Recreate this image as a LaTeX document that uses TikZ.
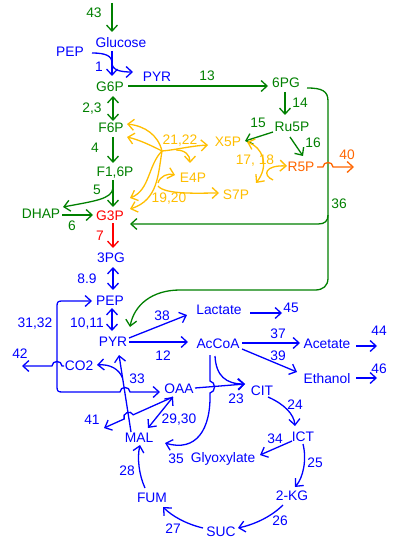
\documentclass[tikz,border=0pt]{standalone}
\usepackage{fontspec}
\setmainfont{Liberation Sans}
\usetikzlibrary{arrows.meta,calc}
\definecolor{cg}{RGB}{0,128,0}
\definecolor{cb}{RGB}{0,0,255}
\definecolor{cy}{RGB}{255,190,0}
\definecolor{co}{RGB}{255,102,0}
\definecolor{cr}{RGB}{255,0,0}
\begin{document}
\begin{tikzpicture}[x=1pt,y=-1pt,line width=1.3pt,
  >={Straight Barb[length=6pt,width=11pt]},
  met/.style={inner sep=0pt,text height=10pt,text depth=0pt,font=\fontsize{13.8}{16}\selectfont},
  gl/.style={met,text=cg}, bl/.style={met,text=cb}, yl/.style={met,text=cy},
  ol/.style={met,text=co}, rl/.style={met,text=cr}]
\useasboundingbox[fill=white] (0,0) rectangle (400,545);
% metabolites
\node[bl] (glc) at (121,43) {Glucose};
\node[bl] (pept) at (70,52) {PEP};
\node[bl] (pyrt) at (157,77) {PYR};
\node[gl] (g6p) at (110,87) {G6P};
\node[gl] (pg6) at (286,83) {6PG};
\node[gl] (f6p) at (111,128) {F6P};
\node[gl] (ru5p) at (292,127) {Ru5P};
\node[yl] (x5p) at (228,142) {X5P};
\node[ol] (r5p) at (301,167) {R5P};
\node[gl] (f16p) at (115,172) {F1,6P};
\node[yl] (e4p) at (193,178) {E4P};
\node[yl] (s7p) at (236,195) {S7P};
\node[gl] (dhap) at (41,213) {DHAP};
\node[rl] (g3p) at (110,215) {G3P};
\node[bl] (pg3) at (111,257) {3PG};
\node[bl] (pep) at (110,300) {PEP};
\node[bl] (pyr) at (113,341) {PYR};
\node[bl] (lac) at (219,309) {Lactate};
\node[bl] (accoa) at (218,343) {AcCoA};
\node[bl] (ace) at (327,343) {Acetate};
\node[bl] (eth) at (327,378) {Ethanol};
\node[bl] (co2) at (79,365) {CO2};
\node[bl] (oaa) at (179,388) {OAA};
\node[bl] (cit) at (262,390) {CIT};
\node[bl] (ict) at (303,436) {ICT};
\node[bl] (mal) at (139,437) {MAL};
\node[bl] (glx) at (223,457) {Glyoxylate};
\node[bl] (kg) at (292,495) {2-KG};
\node[bl] (fum) at (152,497) {FUM};
\node[bl] (suc) at (221,531) {SUC};
% reaction numbers
\node[gl] (n43) at (94,13) {43};
\node[bl] (n1) at (99,67) {1};
\node[gl] (n13) at (207,76) {13};
\node[gl] (n23) at (92,108) {2,3};
\node[gl] (n14) at (300,103) {14};
\node[gl] (n15) at (258,123) {15};
\node[gl] (n16) at (313,143) {16};
\node[gl] (n4) at (95,148) {4};
\node[yl] (n2122) at (180,140) {21,22};
\node[yl] (n1718) at (255,160) {17, 18};
\node[ol] (n40) at (347,155) {40};
\node[gl] (n5) at (97,190) {5};
\node[yl] (n1920) at (169,198) {19,20};
\node[gl] (n36) at (339,203) {36};
\node[gl] (n6) at (72,225) {6};
\node[rl] (n7) at (100,235) {7};
\node[bl] (n89) at (87,278) {8.9};
\node[bl] (n3132) at (35,322) {31,32};
\node[bl] (n1011) at (87,322) {10,11};
\node[bl] (n38) at (162,315) {38};
\node[bl] (n45) at (291,307) {45};
\node[bl] (n37) at (278,333) {37};
\node[bl] (n44) at (379,330) {44};
\node[bl] (n39) at (278,355) {39};
\node[bl] (n12) at (163,355) {12};
\node[bl] (n46) at (379,368) {46};
\node[bl] (n42) at (20,353) {42};
\node[bl] (n33) at (137,378) {33};
\node[bl] (n23b) at (236,398) {23};
\node[bl] (n24) at (295,404) {24};
\node[bl] (n41) at (92,419) {41};
\node[bl] (n2930) at (179,418) {29,30};
\node[bl] (n34) at (275,438) {34};
\node[bl] (n35) at (176,458) {35};
\node[bl] (n25) at (315,462) {25};
\node[bl] (n28) at (127,470) {28};
\node[bl] (n26) at (280,520) {26};
\node[bl] (n27) at (173,528) {27};
\coordinate (s43) at (112,3);
\coordinate (j36) at (328,215);
\coordinate (J) at (162,151);
% green
\draw[cg,->] (s43) -- ($(glc)+(-9,-11)$);
\draw[cg,->] ($(g6p)+(18,-1)$) -- ($(pg6)+(-18,3)$);
\draw[cg,<->] ($(g6p)+(3,9)$) -- ($(f6p)+(2,-7)$);
\draw[cg,->] ($(pg6)+(-1,9)$) -- ($(ru5p)+(-7,-12)$);
\draw[cg,->] ($(ru5p)+(-19,5)$) -- ($(x5p)+(17,-1)$);
\draw[cg,->] ($(ru5p)+(-2,10)$) -- ($(r5p)+(2,-11)$);
\draw[cg,->] ($(f6p)+(2,9)$) -- ($(f16p)+(-2,-9)$);
\draw[cg,->] ($(f16p)+(-2,8)$) -- ($(g3p)+(3,-8)$);
\draw[cg,->] ($(f16p)+(-2,16)$) .. controls (112,199) and (95,201) .. ($(dhap)+(22,-6)$);
\draw[cg,->] ($(dhap)+(21,2)$) -- ($(g3p)+(-17,0)$);
\draw[cg,->] ($(pg6)+(21,5)$) .. controls (322,88) and (328,91) .. (328,101) -- (j36) .. controls (328,221) and (325,224) .. (318,224) -- ($(g3p)+(20,9)$);
\draw[cg,->] (j36) -- (328,278) .. controls (328,286) and (323,290) .. (315,290) -- (180,290) .. controls (152,290) and (134,305) .. ($(pyr)+(17,-14)$);
% red
\draw[cr,->] ($(g3p)+(3,8)$) -- ($(pg3)+(2,-9)$);
% orange
\draw[co,->] ($(r5p)+(16,0)$) -- (323,167) .. controls (323,161) and (333,161) .. (333,167) -- ($(n40)+(7,12)$);
% yellow
\draw[cy,->] (J) .. controls (158,135) and (145,126) .. ($(f6p)+(16,-4)$);
\draw[cy,->] (J) .. controls (152,146) and (140,140) .. ($(f6p)+(16,9)$);
\draw[cy,->] (J) .. controls (175,150) and (190,146) .. ($(x5p)+(-20,3)$);
\draw[cy,->] (176,150) .. controls (185,150) and (190,155) .. ($(e4p)+(-3,-15)$);
\draw[cy,->] (J) .. controls (148,165) and (150,190) .. ($(g3p)+(20,-17)$);
\draw[cy,->] (J) .. controls (158,175) and (158,200) .. ($(g3p)+(20,-6)$);
\draw[cy,->] (158,183) .. controls (160,176) and (168,173) .. ($(e4p)+(-18,-3)$);
\draw[cy,->] (158,186) .. controls (165,195) and (200,193) .. ($(s7p)+(-17,-2)$);
\draw[cy,<->] ($(x5p)+(19,0)$) .. controls (262,147) and (270,165) .. ($(s7p)+(20,-12)$);
\draw[cy,->] (273,180) .. controls (262,175) and (265,165) .. ($(r5p)+(-14,-1)$);
% blue
\draw[cb,->] ($(glc)+(-9,8)$) -- ($(g6p)+(2,-11)$);
\draw[cb,->] ($(pept)+(22,1)$) .. controls (106,53) and (112,56) .. (112,63) .. controls (112,70) and (120,72) .. ($(pyrt)+(-24,-5)$);
\draw[cb,<->] ($(pg3)+(2,10)$) -- ($(pep)+(3,-10)$);
\draw[cb,<->] ($(pep)+(2,8)$) -- ($(pyr)+(-1,-10)$);
\draw[cb,<->] ($(pep)+(-18,1)$) -- (62,301) .. controls (58,301) and (57,302) .. (57,306) -- (57,387) .. controls (57,391) and (58,392) .. (62,392) -- (120,392) .. controls (120,386) and (130,386) .. (130,392) -- ($(oaa)+(-19,4)$);
\draw[cb,->] ($(co2)+(-15,1)$) -- (62,366) .. controls (62,360) and (52,360) .. (52,366) -- ($(n42)+(2,13)$);
\draw[cb,->] ($(pyr)+(16,-3)$) -- ($(lac)+(-32,6)$);
\draw[cb,->] ($(pyr)+(16,1)$) -- ($(accoa)+(-30,-1)$);
\draw[cb,->] ($(mal)+(-8,-5)$) -- ($(pyr)+(6,14)$);
\draw[cb,->] (122.6,378) .. controls (119,369) and (110,364) .. ($(co2)+(18,0)$);
\draw[cb,->] ($(oaa)+(-6,9)$) -- (133.2,414.8) .. controls (130.7,409.3) and (121.6,413.5) .. (124.1,419) -- ($(n41)+(12,9)$);
\draw[cb,<->] ($(mal)+(9,-9)$) -- ($(oaa)+(-6,9)$);
\draw[cb,->] ($(oaa)+(16,0)$) -- ($(cit)+(-17,-6)$);
\draw[cb,->] ($(accoa)+(-3,13)$) .. controls (216,376) and (226,384) .. ($(cit)+(-17,-6)$);
\draw[cb,->] ($(accoa)+(-8,12)$) -- (210,381) .. controls (216,382) and (216,392) .. (210,393) .. controls (211,430) and (196,452) .. ($(mal)+(26,6)$);
\draw[cb,->] ($(cit)+(6,7)$) .. controls (284,404) and (294,414) .. ($(ict)+(-8,-10)$);
\draw[cb,->] ($(ict)+(-11,5)$) -- ($(glx)+(37,-2)$);
\draw[cb,->] ($(ict)+(0,8)$) .. controls (307,460) and (303,478) .. ($(kg)+(3,-8)$);
\draw[cb,->] ($(kg)+(-9,10)$) .. controls (270,518) and (252,525) .. ($(suc)+(17,-3)$);
\draw[cb,->] ($(suc)+(-18,-3)$) .. controls (186,524) and (172,516) .. ($(fum)+(11,10)$);
\draw[cb,->] ($(fum)+(-7,-9)$) .. controls (139,475) and (137,458) .. ($(mal)+(1,8)$);
\draw[cb,->] ($(lac)+(31,4)$) -- ($(n45)+(-9,6)$);
\draw[cb,->] ($(accoa)+(24,0)$) -- ($(ace)+(-27,0)$);
\draw[cb,->] ($(ace)+(29,3)$) -- ($(n44)+(-2,16)$);
\draw[cb,->] ($(accoa)+(24,6)$) -- ($(eth)+(-30,-6)$);
\draw[cb,->] ($(eth)+(29,0)$) -- ($(n46)+(-2,10)$);
\end{tikzpicture}
\end{document}
